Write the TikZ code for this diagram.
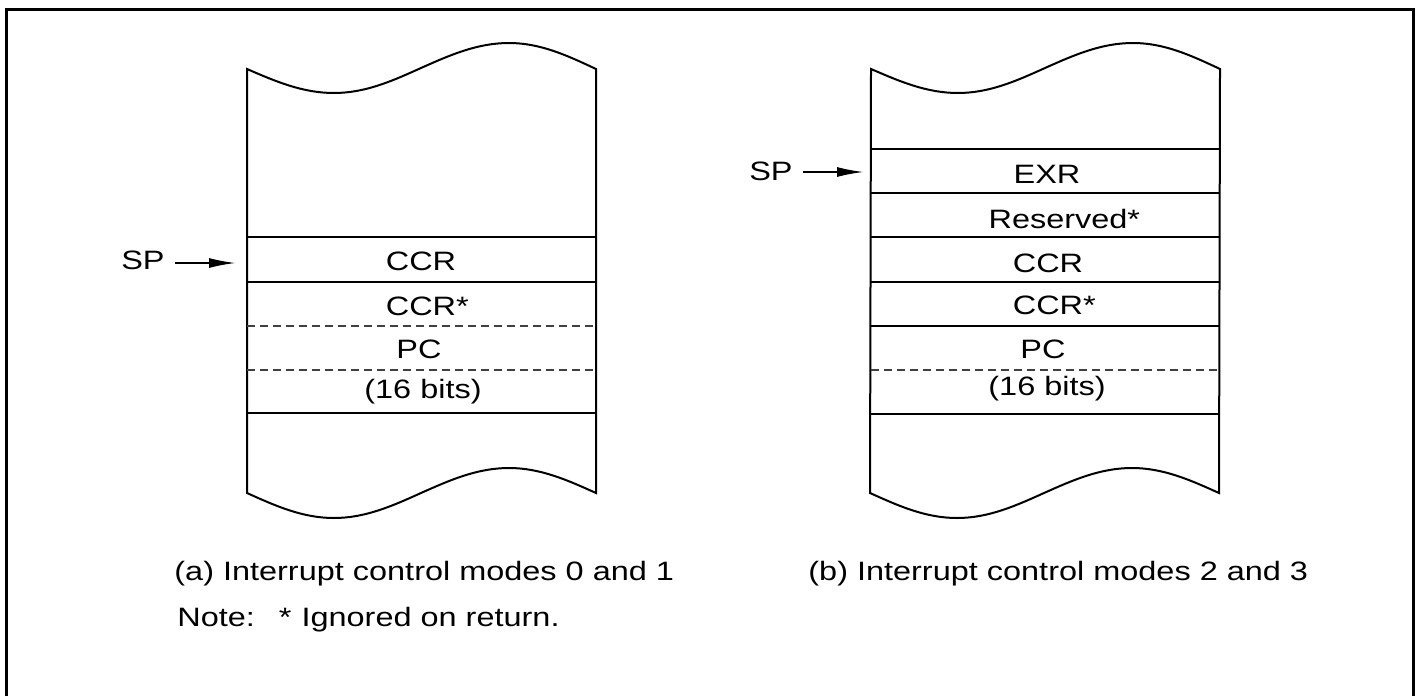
\documentclass[tikz,border=0pt]{standalone}
\usepackage{fontspec}
\setmainfont{Liberation Sans}[FakeStretch=1.22]
\usetikzlibrary{arrows.meta,positioning}
\tikzset{
  frame/.style={line width=1.5pt},
  stackedge/.style={line width=1pt,line join=miter},
  row/.style={line width=0.7pt},
  halfrow/.style={line width=0.7pt,draw=black!75,dash pattern=on 4pt off 2.5pt},
  slot/.style={anchor=base,inner sep=0pt,font=\fontsize{13.3}{16}\selectfont},
  gapslot/.style={slot,fill=white,inner xsep=2pt},
  spmark/.style={anchor=base east,inner ysep=0pt,inner xsep=5pt,font=\fontsize{13.3}{16}\selectfont},
  caption/.style={anchor=base west,inner sep=0pt,font=\fontsize{13.3}{16}\selectfont},
  push/.style={-{Latex[length=13pt,width=5pt]},line width=0.6pt},
}
% one memory stack, cut off by waves at top and bottom
\newcommand{\stackbody}[2]{%
  \draw[stackedge] (#1,69) sin ++(87,24) cos ++(87,-25) sin ++(88,-25) cos ++(87,26)
    -- (#2,493) sin ++(-87,-25) cos ++(-88,25) sin ++(-87,25) cos ++(-87,-25) -- cycle;}

\begin{document}
\begin{tikzpicture}[x=0.5pt,y=-0.5pt]
  \useasboundingbox (0,0) rectangle (1417,696);
  \draw[frame] (6.5,696) -- (6.5,9.5) -- (1413.5,9.5) -- (1413.5,696);

  % (a) modes 0 and 1
  \stackbody{247}{596}
  \draw[row] (247,237) -- (596,237);
  \draw[row] (247,282) -- (596,282);
  \draw[halfrow] (247,326) -- (596,326);
  \draw[halfrow] (247,370) -- (596,370);
  \draw[row] (247,413) -- (596,413);
  \node[slot] (ccra) at (421,270) {CCR};
  \node[slot] (ccrsa) at (421,315) {CCR\rlap{*}};
  \node[slot] (pca) at (419,358) {PC};
  \node[gapslot] (bitsa) at (423,398) {(16 bits)};
  \node[spmark] (spa) at (175,269) {SP};
  \coordinate (ta) at (235,263);
  \draw[push] (spa.east |- ta) -- (ta);
  \node[caption] (capa) at (174,580) {(a) Interrupt control modes 0 and 1};

  % (b) modes 2 and 3
  \stackbody{871}{1219}
  \draw[row] (871,149) -- (1219,149);
  \draw[row] (871,193) -- (1219,193);
  \draw[row] (871,237) -- (1219,237);
  \draw[row] (871,282) -- (1219,282);
  \draw[row] (871,326) -- (1219,326);
  \draw[halfrow] (871,370) -- (1219,370);
  \draw[row] (871,414) -- (1219,414);
  \node[slot] (exrb) at (1047,183) {EXR};
  \node[slot] (resb) at (1058,228) {Reserved\rlap{*}};
  \node[slot] (ccrb) at (1048,272) {CCR};
  \node[slot] (ccrsb) at (1048,314) {CCR\rlap{*}};
  \node[slot] (pcb) at (1043,358) {PC};
  \node[gapslot] (bitsb) at (1047,395) {(16 bits)};
  \node[spmark] (spb) at (803,180) {SP};
  \coordinate (tb) at (863,172);
  \draw[push] (spb.east |- tb) -- (tb);
  \node[caption] (capb) at (808,580) {(b) Interrupt control modes 2 and 3};

  \node[caption] (note) at (177,626) {Note:\hspace{12pt}*\hspace{5pt}Ignored on return.};
\end{tikzpicture}
\end{document}
